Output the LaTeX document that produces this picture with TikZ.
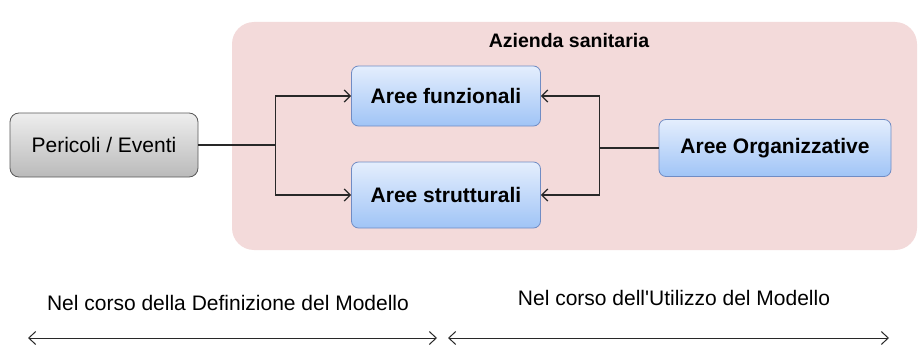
\documentclass[tikz,border=0pt]{standalone}
\usepackage{fontspec}
\setmainfont{Liberation Sans}
\usetikzlibrary{positioning,arrows.meta}
\definecolor{zonepink}{RGB}{243,218,218}
\definecolor{boxblueTop}{RGB}{228,238,253}
\definecolor{boxblueBot}{RGB}{160,196,246}
\definecolor{boxblueLine}{RGB}{112,140,196}
\definecolor{boxgreyTop}{RGB}{238,238,238}
\definecolor{boxgreyBot}{RGB}{186,186,186}
\definecolor{linkgrey}{RGB}{40,40,40}
\tikzset{blue node/.style={rectangle,rounded corners=7pt,draw=boxblueLine,line width=0.8pt,top color=boxblueTop,bottom color=boxblueBot,minimum width=189pt,minimum height=60pt,inner sep=0pt,font=\bfseries\fontsize{21}{25}\selectfont} }
\tikzset{grey node/.style={rectangle,rounded corners=9pt,draw=black!65,line width=0.8pt,top color=boxgreyTop,bottom color=boxgreyBot,minimum width=188pt,minimum height=64pt,inner sep=0pt,font=\fontsize{21}{25}\selectfont} }
\tikzset{link/.style={draw=linkgrey,line width=1.3pt,arrows={-Straight Barb[length=6pt,width=12pt]}} }
\tikzset{phase/.style={draw=linkgrey,line width=1pt,arrows={Straight Barb[length=7pt,width=13pt]-Straight Barb[length=7pt,width=13pt]}} }

\begin{document}
\begin{tikzpicture}[x=1pt,y=-1pt]
\useasboundingbox (0,0) rectangle (919,345);
\begin{scope}[on grid]

  % zona azienda
  \fill[zonepink,rounded corners=22pt] (232,22) rectangle (917,250);
  \node[font=\bfseries\fontsize{19.5}{23}\selectfont] (azienda) at (569,41) {Azienda sanitaria};

  \node[grey node] (pericoli) at (104,145) {Pericoli / Eventi};
  \node[blue node] (funz) at (446,96) {Aree funzionali};
  \node[blue node, minimum height=66pt] (strut) [below =99pt of funz] {Aree strutturali};
  \node[blue node, minimum width=232pt, minimum height=57pt] (org) at (775,148) {Aree Organizzative};

  \path[link,-]
    (pericoli.east) -- ++(77,0) coordinate (fork)
    (org.west) -- ++(-59,0) coordinate (merge);
  \draw[link] (fork) |- (funz.west);
  \draw[link] (fork) |- (strut.west);
  \draw[link] (merge) |- (funz.east);
  \draw[link] (merge) |- (strut.east);

  % fasi
  \node[font=\fontsize{21}{25}\selectfont] (defin) at (228,303) {Nel corso della Definizione del Modello};
  \node[font=\fontsize{21}{25}\selectfont] (utiliz) at (674,298) {Nel corso dell\textquotesingle Utilizzo del Modello};
  \coordinate (defL) at (28,338);
  \coordinate (defR) at (437,338);
  \coordinate (utiL) at (448,338);
  \coordinate (utiR) at (889,338);
  \draw[phase] (defL) -- (defR);
  \draw[phase] (utiL) -- (utiR);
\end{scope}
\end{tikzpicture}
\end{document}
